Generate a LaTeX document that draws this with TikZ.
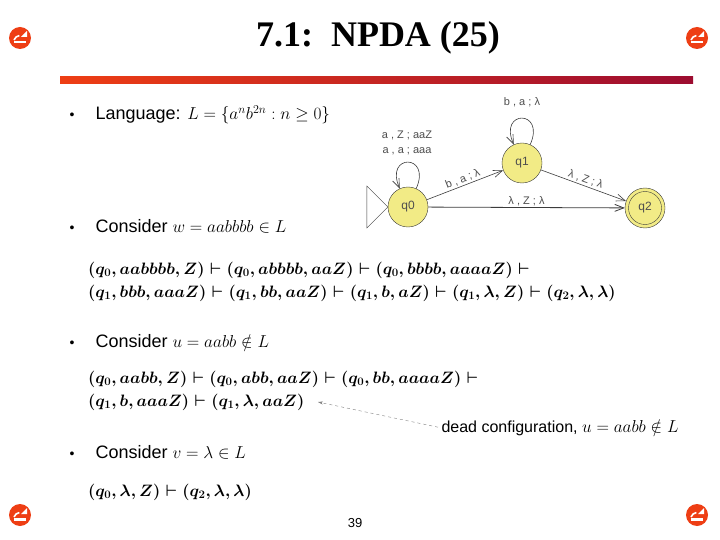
\documentclass[tikz,border=0pt]{standalone}
\usepackage{amsmath,amssymb}
\usepackage{fontspec}
\setmainfont{Liberation Sans}
\newfontfamily\titlefont{Liberation Serif}
\usetikzlibrary{arrows.meta, positioning, calc}
\definecolor{mstate}{HTML}{F2EB86}
\definecolor{medge}{HTML}{3C3C3C}
\definecolor{mlabel}{HTML}{4E4E4E}
\definecolor{mred}{HTML}{EE3E14}
\definecolor{mdark}{HTML}{9C0C30}
\newcommand{\cfgmath}[1]{\scalebox{0.955}{$#1$}}
\tikzset{
  state/.style={circle, draw=medge, fill=mstate, minimum size=40pt, inner sep=0pt,
                font=\fontsize{12}{14}\selectfont, text=mlabel},
  elab/.style={font=\fontsize{11}{13}\selectfont, text=mlabel, inner sep=1.5pt},
  tr/.style={-{Straight Barb[length=9pt,width=7pt]}, medge, semithick},
  bul/.style={anchor=base, font=\fontsize{14}{16}\selectfont},
  btext/.style={anchor=base west, font=\fontsize{18}{22}\selectfont},
  cfg/.style={anchor=base west, font=\fontsize{18}{22}\selectfont\boldmath, inner sep=0pt},
  darr/.style={-{Stealth[length=5pt,width=3pt]}, dashed, thin, gray},
}
\begin{document}
\begin{tikzpicture}[x=1pt, y=-1pt]
  \useasboundingbox (0,0) rectangle (720,540);
  \fill[white] (0,0) rectangle (720,540);

  % title and rule
  \node[font=\titlefont\bfseries\fontsize{36}{40}\selectfont] (title) at (378,38) {7.1:\ \ NPDA (25)};
  \shade[left color=mred, right color=mdark] (60,77) rectangle (693,84);

  % corner icons
  \foreach \cx/\cy in {20/38, 697/38, 20/515, 697/515} {
    \fill[mred] (\cx,\cy) circle (11);
    \draw[white, line width=1.6pt] ($(\cx,\cy)+(-6,2)$) arc[start angle=-160, end angle=-100, radius=7];
    \fill[white] ($(\cx,\cy)+(1,-1)$) -- ++(6,-6) -- ++(0,6) -- cycle;
    \fill[white] ($(\cx,\cy)+(-6,3)$) rectangle ++(12,2.5);
  }

  % automaton
  \node[state] (q0) at (408,207) {q0};
  \node[state] (q1) at (522,163) {q1};
  \node[state] (q2) at (645,208) {q2};
  \draw[medge] (q2.center) circle (16.5);
  \draw[medge] (q0.west) -- ++(-21,21) -- ++(0,-42) -- cycle;

  \draw[tr] (q0) to[out=66, in=114, looseness=6] (q0);
  \node[elab] (l0a) at (407,135) {a , Z ; aaZ};
  \node[elab] (l0b) at (407,151) {a , a ; aaa};
  \draw[tr] (q1) to[out=66, in=114, looseness=6] (q1);
  \node[elab] (l1) at (522,102) {b , a ; λ};

  \draw[tr] (q0) -- node[elab, sloped, above] {b , a ; λ} (q1);
  \draw[tr] (q1) -- node[elab, sloped, above] {λ , Z ; λ} (q2);
  \draw[tr, thick] (q0) -- node[elab, above] {λ , Z ; λ} (q2);

  % bullets
  \node[bul] (b1) at (72,120) {\textbullet};
  \node[btext] (lang) at (92,120) {Language: $L=\{a^nb^{2n}:n\geq 0\}$};
  \node[bul] (b2) at (72,233) {\textbullet};
  \node[btext] (consw) at (92,233) {Consider $w=aabbbb\in L$};
  \node[cfg] (cfgw1) at (88,274) {\cfgmath{(q_0,aabbbb,Z)\vdash(q_0,abbbb,aaZ)\vdash(q_0,bbbb,aaaaZ)\vdash}};
  \node[cfg] (cfgw2) at (88,297) {\cfgmath{(q_1,bbb,aaaZ)\vdash(q_1,bb,aaZ)\vdash(q_1,b,aZ)\vdash(q_1,\lambda,Z)\vdash(q_2,\lambda,\lambda)}};

  \node[bul] (b3) at (72,347) {\textbullet};
  \node[btext] (consu) at (92,347) {Consider $u=aabb\notin L$};
  \node[cfg] (cfgu1) at (88,383) {\cfgmath{(q_0,aabb,Z)\vdash(q_0,abb,aaZ)\vdash(q_0,bb,aaaaZ)\vdash}};
  \node[cfg] (cfgu2) at (88,406) {\cfgmath{(q_1,b,aaaZ)\vdash(q_1,\lambda,aaZ)}};
  \node[btext, font=\fontsize{16}{20}\selectfont] (dead) at (438,432) {dead configuration, $u=aabb\notin L$};
  \coordinate (deadtip) at (318,402);
  \draw[darr] (dead.west) -- (deadtip);

  \node[bul] (b4) at (72,458) {\textbullet};
  \node[btext] (consv) at (92,458) {Consider $v=\lambda\in L$};
  \node[cfg] (cfgv) at (88,496) {\cfgmath{(q_0,\lambda,Z)\vdash(q_2,\lambda,\lambda)}};

  \node[font=\fontsize{13}{15}\selectfont] (page) at (355,523) {39};
\end{tikzpicture}
\end{document}
